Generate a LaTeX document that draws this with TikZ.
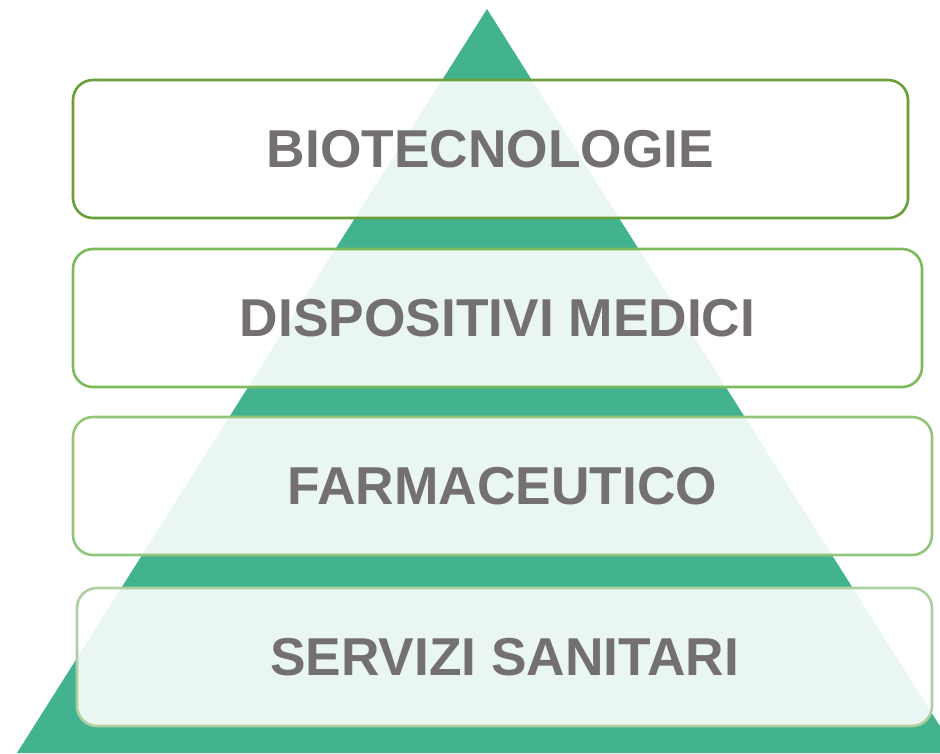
\documentclass[tikz,border=0pt]{standalone}
\usepackage{fontspec}
\setmainfont{Liberation Sans}
\usetikzlibrary{positioning}
\definecolor{pyrTeal}{HTML}{43B38F}
\definecolor{pyrText}{HTML}{757070}
\definecolor{pyrLineA}{HTML}{689F38}
\definecolor{pyrLineB}{HTML}{7CBB5B}
\definecolor{pyrLineC}{HTML}{92C57A}
\definecolor{pyrLineD}{HTML}{AECFA0}

\begin{document}
\begin{tikzpicture}[x=1pt,y=-1pt,
    tier/.style={draw,line width=2.6pt,rounded corners=20pt,
                 fill=white,fill opacity=0.885,text opacity=1,
                 minimum height=138pt,inner sep=0pt,
                 text=pyrText,font=\fontsize{53.3}{60}\selectfont\bfseries}]
  \useasboundingbox (0,0) rectangle (940,753);
  \clip (0,0) rectangle (940,753);

  % pyramid behind the tiers
  \fill[pyrTeal] (487,9) -- (957,753) -- (17,753) -- cycle;

  \node[tier,draw=pyrLineA,minimum width=835pt] (bio) at (490.5,149) {BIOTECNOLOGIE};
  \node[tier,draw=pyrLineB,minimum width=849pt] (dis) at (497.5,318) {DISPOSITIVI MEDICI};
  \node[tier,draw=pyrLineC,minimum width=859pt] (far) at (502.5,486) {FARMACEUTICO};
  \node[tier,draw=pyrLineD,minimum width=855pt] (ser) at (504.5,657) {SERVIZI SANITARI};
\end{tikzpicture}
\end{document}
